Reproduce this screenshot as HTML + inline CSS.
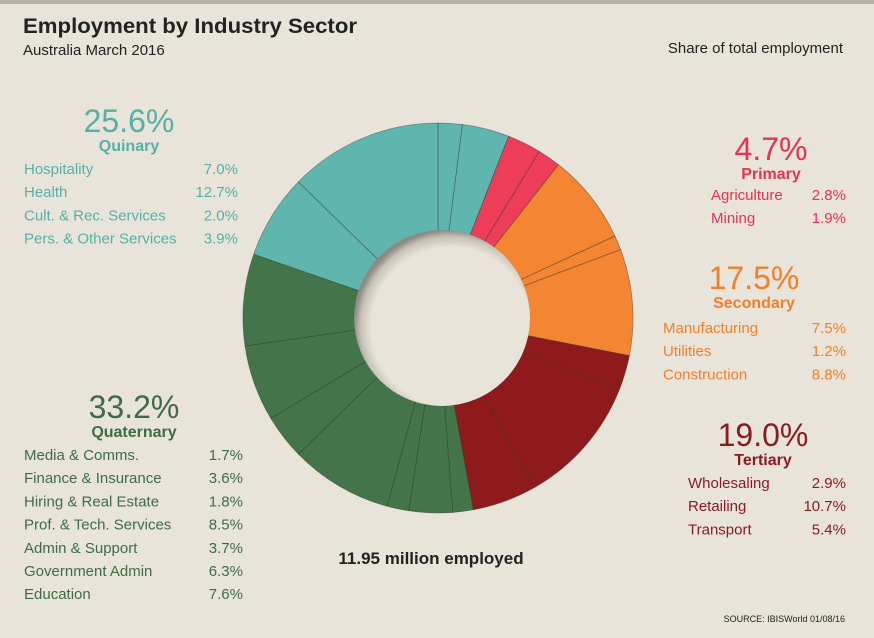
<!DOCTYPE html>
<html><head><meta charset="utf-8">
<style>
body{margin:0;background:#e9e4da;}
#wrap{position:relative;width:874px;height:638px;background:#e9e4da;overflow:hidden;font-family:"Liberation Sans",sans-serif;}
svg{position:absolute;left:0;top:0;}
</style></head>
<body>
<div id="wrap">
<svg id="chart" width="874" height="638">
<defs>
<radialGradient id="hole" cx="0.55" cy="0.55" r="0.55">
<stop offset="0.82" stop-color="#e9e4da"/>
<stop offset="0.93" stop-color="#c8c3b9"/>
<stop offset="1" stop-color="#8d8a84"/>
</radialGradient>
</defs>
<rect x="0" y="0" width="874" height="4" fill="#b7b2a6"/>
<text x="23" y="33" font-size="21" font-weight="bold" fill="#222" textLength="334" lengthAdjust="spacingAndGlyphs">Employment by Industry Sector</text>
<text x="23" y="55" font-size="15" fill="#222">Australia March 2016</text>
<text x="843" y="53" font-size="15" fill="#222" text-anchor="end">Share of total employment</text>
<g id="slices"></g>
<circle cx="442" cy="318" r="88" fill="url(#hole)"/>
<text x="431" y="564" font-size="17" font-weight="bold" fill="#222" text-anchor="middle">11.95 million employed</text>
<text x="845" y="622" font-size="9" fill="#222" text-anchor="end">SOURCE: IBISWorld 01/08/16</text>
<g id="legends"></g>
</svg>
</div>
<script>
const categories=["Cult. & Rec. Services","Pers. & Other Services","Agriculture","Mining","Manufacturing","Utilities","Construction","Wholesaling","Retailing","Transport","Media & Comms.","Finance & Insurance","Hiring & Real Estate","Prof. & Tech. Services","Admin & Support","Government Admin","Education","Hospitality","Health"];
const values=[2.0,3.9,2.8,1.9,7.5,1.2,8.8,2.9,10.7,5.4,1.7,3.6,1.8,8.5,3.7,6.3,7.6,7.0,12.7];
const sectorOf=["quinary","quinary","primary","primary","secondary","secondary","secondary","tertiary","tertiary","tertiary","quaternary","quaternary","quaternary","quaternary","quaternary","quaternary","quaternary","quinary","quinary"];
const sectorNames=["quinary","primary","secondary","tertiary","quaternary"];
const sectorTitles=["Quinary","Primary","Secondary","Tertiary","Quaternary"];
const sectorTotals=["25.6%","4.7%","17.5%","19.0%","33.2%"];
const legendOrder=[[17,18,0,1],[2,3],[4,5,6],[7,8,9],[10,11,12,13,14,15,16]];
const colors={quinary:"#5fb6ae",primary:"#ee3d59",secondary:"#f38533",tertiary:"#8f1a1c",quaternary:"#44744a"};
const textColors={quinary:"#56b0a6",primary:"#e53350",secondary:"#f07f2b",tertiary:"#8a1a1e",quaternary:"#3e6c44"};
const layout={quinary:{cx:129,ty:132,lx:24,rx:238,ry:174},primary:{cx:771,ty:160,lx:711,rx:846,ry:200},secondary:{cx:754,ty:289,lx:663,rx:846,ry:333},tertiary:{cx:763,ty:446,lx:688,rx:846,ry:488},quaternary:{cx:134,ty:418,lx:24,rx:243,ry:460}};
const NS="http://www.w3.org/2000/svg";
const cx=438,cy=318,R=195,r0=80;
const total=values.reduce((a,b)=>a+b,0);
function angle(v){return v/total*2*Math.PI;}
function pt(a,rad){return [cx+rad*Math.sin(a),cy-rad*Math.cos(a)];}
const g=document.getElementById('slices');
let acc=0;
values.forEach((v,i)=>{
  const a0=angle(acc),a1=angle(acc+v);acc+=v;
  const [x0,y0]=pt(a0,R),[x1,y1]=pt(a1,R),[x2,y2]=pt(a1,r0),[x3,y3]=pt(a0,r0);
  const large=(a1-a0)>Math.PI?1:0;
  const p=document.createElementNS(NS,'path');
  p.setAttribute('d',`M${x0},${y0}A${R},${R} 0 ${large} 1 ${x1},${y1}L${x2},${y2}A${r0},${r0} 0 ${large} 0 ${x3},${y3}Z`);
  p.setAttribute('fill',colors[sectorOf[i]]);
  p.setAttribute('stroke','rgba(40,50,40,0.45)');
  p.setAttribute('stroke-width','0.8');
  
  
  g.appendChild(p);
});
const lg=document.getElementById('legends');
function txt(x,y,s,size,col,anchor,weight,name){
  const t=document.createElementNS(NS,'text');
  t.setAttribute('x',x);t.setAttribute('y',y);t.setAttribute('font-size',size);
  t.setAttribute('fill',col);t.setAttribute('text-anchor',anchor);
  if(weight)t.setAttribute('font-weight',weight);
  
  
  t.textContent=s;lg.appendChild(t);
}
sectorNames.forEach((s,k)=>{
  const L=layout[s],c=textColors[s];
  txt(L.cx,L.ty,sectorTotals[k],32,c,'middle',null,s+'-total');
  txt(L.cx,L.ty+19,sectorTitles[k],16,c,'middle','bold',s+'-title');
  legendOrder[k].forEach((idx,j)=>{
    const y=L.ry+j*23.2;
    txt(L.lx,y,categories[idx],15,c,'start',null,'legend-label');
    txt(L.rx,y,values[idx].toFixed(1)+'%',15,c,'end',null,'legend-value');
  });
});
</script>
</body></html>
